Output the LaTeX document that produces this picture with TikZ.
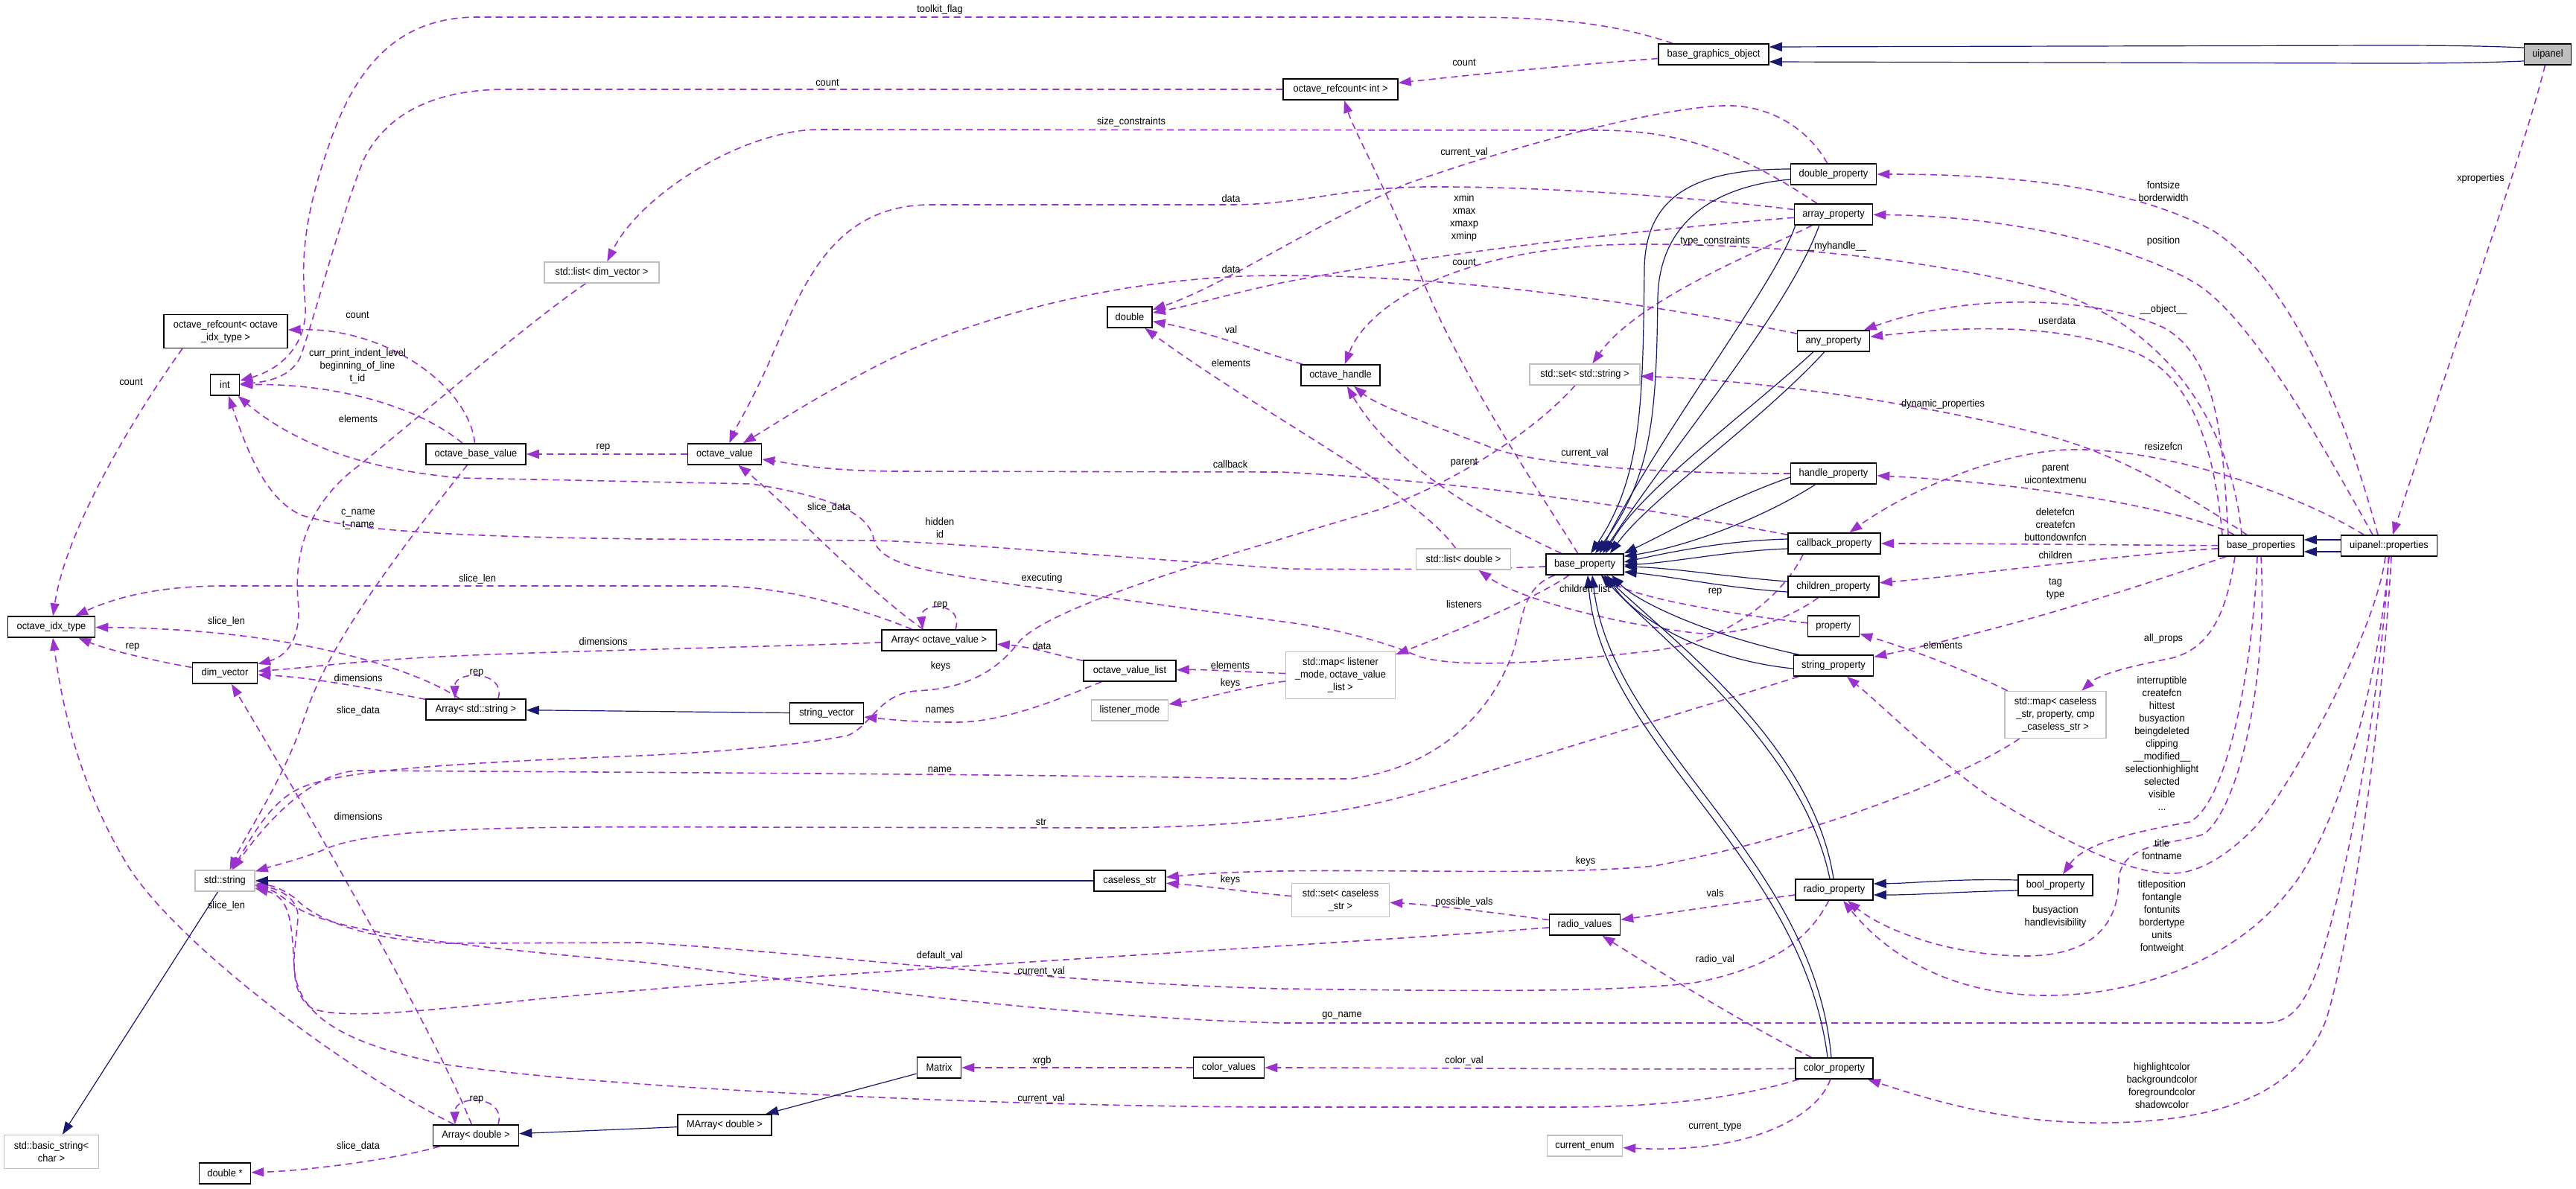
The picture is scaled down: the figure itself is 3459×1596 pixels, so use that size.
\documentclass[tikz,border=0pt]{standalone}
\usepackage{fontspec}
\setmainfont{Liberation Sans}[FakeStretch=0.93]
\usetikzlibrary{arrows.meta}
\definecolor{usecol}{HTML}{9A32CD}
\definecolor{inhcol}{HTML}{191970}
\pgfdeclarelayer{bgzero}
\pgfdeclarelayer{edges}
\pgfsetlayers{bgzero,edges,main}
\tikzset{
  cls/.style={draw=black, line width=1.5pt, fill=white, inner sep=0pt, minimum height=28pt, align=center},
  ucls/.style={cls, draw=black!25},
  lbl/.style={inner sep=0pt, align=center},
  usesedge/.style={draw=usecol, line width=1.6pt, dash pattern=on 9pt off 6pt, -{Triangle[length=17pt,width=12pt]}},
  inhedge/.style={draw=inhcol, line width=1.2pt, -{Triangle[length=17pt,width=12pt]}}
}
\begin{document}
\begin{tikzpicture}[x=1pt,y=-1pt,font=\fontsize{13.8}{17}\selectfont]
\begin{pgfonlayer}{bgzero}
\fill[white] (0,0) rectangle (3459,1596);
\end{pgfonlayer}
\useasboundingbox (0,0) rectangle (3459,1596);

% nodes
\node[cls, fill=black!25, minimum width=63pt] (uipanel) at (3421,73) {uipanel};
\node[cls, minimum width=148pt] (bgo) at (2301,73) {base\_graphics\_object};
\node[cls, minimum width=154pt] (orcint) at (1800,120) {octave\_refcount< int >};
\node[cls, minimum width=166pt, minimum height=45pt] (orcidx) at (303,445) {octave\_refcount< octave\\\_idx\_type >};
\node[cls, minimum width=39pt] (int) at (302,517) {int};
\node[ucls, minimum width=154pt] (listdim) at (808,366) {std::list< dim\_vector >};
\node[cls, minimum width=60pt] (double) at (1517,426) {double};
\node[cls, minimum width=115pt] (dprop) at (2462,234) {double\_property};
\node[cls, minimum width=105pt] (aprop) at (2462,288) {array\_property};
\node[cls, minimum width=97pt] (anyprop) at (2462,458) {any\_property};
\node[cls, minimum width=106pt] (ohandle) at (1800,504) {octave\_handle};
\node[ucls, minimum width=148pt] (setstr) at (2128,503) {std::set< std::string >};
\node[cls, minimum width=134pt] (obv) at (639,610) {octave\_base\_value};
\node[cls, minimum width=99pt] (ov) at (973,610) {octave\_value};
\node[cls, minimum width=117pt] (oidx) at (69,842) {octave\_idx\_type};
\node[cls, minimum width=87pt] (dimv) at (302,904) {dim\_vector};
\node[cls, minimum width=134pt] (arrstr) at (639,953) {Array< std::string >};
\node[cls, minimum width=154pt] (arrov) at (1261,860) {Array< octave\_value >};
\node[cls, minimum width=124pt] (ovl) at (1517,901) {octave\_value\_list};
\node[ucls, minimum width=103pt] (lmode) at (1517,954) {listener\_mode};
\node[cls, minimum width=99pt] (strvec) at (1110,958) {string\_vector};
\node[cls, minimum width=115pt] (hprop) at (2462,636) {handle\_property};
\node[cls, minimum width=124pt] (cbprop) at (2463,730) {callback\_property};
\node[cls, minimum width=122pt] (chprop) at (2462,788) {children\_property};
\node[cls, minimum width=69pt] (prop) at (2462,841) {property};
\node[cls, minimum width=107pt] (sprop) at (2462,894) {string\_property};
\node[cls, minimum width=104pt] (bprop) at (2128,758) {base\_property};
\node[ucls, minimum width=127pt] (listdbl) at (1965,751) {std::list< double >};
\node[ucls, minimum width=147pt, minimum height=63pt] (maplm) at (1800,907) {std::map< listener\\\_mode, octave\_value\\\_list >};
\node[cls, minimum width=114pt] (bprops) at (3036,733) {base\_properties};
\node[cls, minimum width=129pt] (uprops) at (3208,733) {uipanel::properties};
\node[ucls, minimum width=136pt, minimum height=63pt] (mapcs) at (2760,960) {std::map< caseless\\\_str, property, cmp\\\_caseless\_str >};
\node[cls, minimum width=100pt] (boolp) at (2760,1189) {bool\_property};
\node[ucls, minimum width=80pt] (stdstr) at (302,1183) {std::string};
\node[ucls, minimum width=127pt, minimum height=45pt] (bstr) at (69,1547) {std::basic\_string<\\char >};
\node[cls, minimum width=115pt] (arrdbl) at (639,1525) {Array< double >};
\node[cls, minimum width=69pt] (dblptr) at (302,1576) {double *};
\node[cls, minimum width=96pt] (cstr) at (1517,1183) {caseless\_str};
\node[cls, minimum width=59pt] (matrix) at (1261,1434) {Matrix};
\node[cls, minimum width=95pt] (cvals) at (1650,1434) {color\_values};
\node[cls, minimum width=126pt] (marr) at (973,1511) {MArray< double >};
\node[ucls, minimum width=131pt, minimum height=45pt] (setcs) at (1800,1209) {std::set< caseless\\\_str >};
\node[cls, minimum width=95pt] (rvals) at (2128,1242) {radio\_values};
\node[cls, minimum width=104pt] (rprop) at (2463,1195) {radio\_property};
\node[cls, minimum width=104pt] (cprop) at (2463,1435) {color\_property};
\node[ucls, minimum width=101pt] (cenum) at (2128,1539) {current\_enum};

% labels
\node[lbl] (t1) at (1262,13) {toolkit\_flag};
\node[lbl] (t2) at (1966,84) {count};
\node[lbl] (t3) at (1111,111) {count};
\node[lbl] (t4) at (1519,164) {size\_constraints};
\node[lbl] (t5) at (1966,205) {current\_val};
\node[lbl] (t6) at (2905,257) {fontsize\\borderwidth};
\node[lbl] (t7) at (3331,240) {xproperties};
\node[lbl] (t8) at (1653,267) {data};
\node[lbl] (t9) at (1966,292) {xmin\\xmax\\xmaxp\\xminp};
\node[lbl] (t10) at (2905,324) {position};
\node[lbl] (t11) at (2303,324) {type\_constraints};
\node[lbl] (t12) at (2464,331) {\_\_myhandle\_\_};
\node[lbl] (t13) at (1966,352) {count};
\node[lbl] (t14) at (1653,362) {data};
\node[lbl] (t15) at (2905,416) {\_\_object\_\_};
\node[lbl] (t16) at (480,423) {count};
\node[lbl] (t17) at (2762,431) {userdata};
\node[lbl] (t18) at (1653,443) {val};
\node[lbl] (t19) at (480,492) {curr\_print\_indent\_level\\beginning\_of\_line\\t\_id};
\node[lbl] (t20) at (1653,488) {elements};
\node[lbl] (t21) at (176,513) {count};
\node[lbl] (t22) at (2609,543) {dynamic\_properties};
\node[lbl] (t23) at (481,563) {elements};
\node[lbl] (t24) at (2905,600) {resizefcn};
\node[lbl] (t25) at (810,601) {rep};
\node[lbl] (t26) at (2128,609) {current\_val};
\node[lbl] (t27) at (1966,621) {parent};
\node[lbl] (t28) at (1652,624) {callback};
\node[lbl] (t29) at (2760,637) {parent\\uicontextmenu};
\node[lbl] (t30) at (1113,682) {slice\_data};
\node[lbl] (t31) at (2760,705) {deletefcn\\createfcn\\buttondownfcn};
\node[lbl] (t32) at (481,698) {c\_name\\t\_name};
\node[lbl] (t33) at (1262,709) {hidden\\id};
\node[lbl] (t34) at (2760,746) {children};
\node[lbl] (t35) at (1399,777) {executing};
\node[lbl] (t36) at (641,778) {slice\_len};
\node[lbl] (t37) at (2760,791) {tag\\type};
\node[lbl] (t38) at (2128,792) {children\_list};
\node[lbl] (t39) at (2303,795) {rep};
\node[lbl] (t40) at (1966,812) {listeners};
\node[lbl] (t41) at (1263,813) {rep};
\node[lbl] (t42) at (304,835) {slice\_len};
\node[lbl] (t43) at (2905,858) {all\_props};
\node[lbl] (t44) at (810,862) {dimensions};
\node[lbl] (t45) at (2609,867) {elements};
\node[lbl] (t46) at (1399,868) {data};
\node[lbl] (t47) at (178,869) {rep};
\node[lbl] (t48) at (1652,894) {elements};
\node[lbl] (t49) at (1263,895) {keys};
\node[lbl] (t50) at (640,904) {rep};
\node[lbl] (t51) at (481,911) {dimensions};
\node[lbl] (t52) at (1652,918) {keys};
\node[lbl] (t53) at (1262,954) {names};
\node[lbl] (t54) at (481,955) {slice\_data};
\node[lbl] (t55) at (2903,998) {interruptible\\createfcn\\hittest\\busyaction\\beingdeleted\\clipping\\\_\_modified\_\_\\selectionhighlight\\selected\\visible\\...};
\node[lbl] (t56) at (1262,1034) {name};
\node[lbl] (t57) at (481,1097) {dimensions};
\node[lbl] (t58) at (1398,1104) {str};
\node[lbl] (t59) at (2903,1141) {title\\fontname};
\node[lbl] (t60) at (2129,1157) {keys};
\node[lbl] (t61) at (1652,1182) {keys};
\node[lbl] (t62) at (2303,1200) {vals};
\node[lbl] (t63) at (1966,1212) {possible\_vals};
\node[lbl] (t64) at (304,1217) {slice\_len};
\node[lbl] (t65) at (2760,1231) {busyaction\\handlevisibility};
\node[lbl] (t66) at (2903,1231) {titleposition\\fontangle\\fontunits\\bordertype\\units\\fontweight};
\node[lbl] (t67) at (1262,1284) {default\_val};
\node[lbl] (t68) at (2303,1289) {radio\_val};
\node[lbl] (t69) at (1398,1305) {current\_val};
\node[lbl] (t70) at (1802,1364) {go\_name};
\node[lbl] (t71) at (1399,1425) {xrgb};
\node[lbl] (t72) at (1966,1425) {color\_val};
\node[lbl] (t73) at (2903,1458) {highlightcolor\\backgroundcolor\\foregroundcolor\\shadowcolor};
\node[lbl] (t74) at (1398,1476) {current\_val};
\node[lbl] (t75) at (640,1477) {rep};
\node[lbl] (t76) at (2303,1513) {current\_type};
\node[lbl] (t77) at (481,1540) {slice\_data};

\begin{pgfonlayer}{edges}
% ---- usage edges ----
\draw[usesedge] (bgo.165) .. controls (2150,25) and (2050,23) .. (1950,23) -- (640,23) .. controls (520,23) and (470,110) .. (440,200) .. controls (405,300) and (405,360) .. (410,410) .. controls (413,460) and (380,495) .. (int);
\draw[usesedge] (bgo) .. controls (2100,88) and (1980,100) .. (orcint);
\draw[usesedge] (orcint) -- (680,120) .. controls (560,120) and (510,170) .. (488,215) .. controls (455,300) and (430,400) .. (405,475) .. controls (397,500) and (370,512) .. (int);
\draw[usesedge] (obv) .. controls (630,520) and (520,440) .. (orcidx);
\draw[usesedge] (obv) .. controls (560,545) and (450,515) .. (int);
\draw[usesedge] ([xshift=-58pt]orcidx.south) .. controls (200,530) and (90,700) .. (oidx);
\draw[usesedge] ([xshift=-42pt]cbprop.south) .. controls (2400,790) and (2330,862) .. (2219,874) .. controls (2100,888) and (1960,900) .. (1903,881) .. controls (1870,866) and (1800,845) .. (1730,836) -- (1360,785) .. controls (1250,768) and (1180,760) .. (1173,723) .. controls (1166,690) and (1120,668) .. (1010,650) -- (620,642) .. controls (500,632) and (400,600) .. (int);
\draw[usesedge] (bprop) .. controls (2000,765) and (1800,765) .. (1730,764) .. controls (1500,748) and (1250,727) .. (1171,726) -- (870,724) .. controls (600,721) and (470,712) .. (405,692) .. controls (355,670) and (330,600) .. (int);
\draw[usesedge] (obv) .. controls (520,760) and (440,870) .. (410,960) .. controls (380,1050) and (330,1120) .. (stdstr);
\draw[usesedge] (listdim) .. controls (700,440) and (540,580) .. (472,633) .. controls (415,680) and (395,740) .. (400,805) .. controls (405,850) and (390,880) .. (dimv);
\draw[usesedge] (arrov) .. controls (1150,815) and (1050,787) .. (960,787) -- (300,787) .. controls (220,787) and (160,800) .. (oidx);
\draw[usesedge] (arrstr) .. controls (560,900) and (400,845) .. (oidx);
\draw[usesedge] (dimv) .. controls (220,890) and (150,875) .. (oidx);
\draw[usesedge] (arrov) .. controls (1000,870) and (700,875) .. (555,884) .. controls (460,890) and (400,898) .. (dimv);
\draw[usesedge] (arrstr) .. controls (500,925) and (420,910) .. (dimv);
\draw[usesedge] (arrdbl) .. controls (590,1400) and (420,1100) .. (dimv);
\draw[usesedge] (arrdbl) .. controls (450,1430) and (230,1260) .. (170,1160) .. controls (110,1060) and (85,960) .. (oidx);
\draw[usesedge] (arrdbl) .. controls (540,1555) and (420,1572) .. (dblptr);
\draw[usesedge] ([xshift=30pt]arrdbl.north) .. controls (680,1470) and (610,1470) .. ([xshift=-28pt]arrdbl.north);
\draw[usesedge] ([xshift=30pt]arrstr.north) .. controls (680,900) and (610,900) .. ([xshift=-28pt]arrstr.north);
\draw[usesedge] ([xshift=22pt]arrov.north) .. controls (1295,808) and (1235,808) .. ([xshift=-22pt]arrov.north);
\draw[usesedge] (arrov) .. controls (1160,790) and (1060,680) .. (ov);
\draw[usesedge] (ov) -- (obv);
\draw[usesedge] (aprop) .. controls (2250,262) and (2050,250) .. (1914,251) .. controls (1800,252) and (1750,275) .. (1650,275) -- (1250,275) .. controls (1120,275) and (1080,380) .. (1040,470) .. controls (1010,540) and (990,570) .. (ov);
\draw[usesedge] (anyprop) .. controls (2200,405) and (1950,370) .. (1720,370) .. controls (1500,370) and (1300,430) .. (1190,485) .. controls (1100,530) and (1040,570) .. (ov);
\draw[usesedge] (cbprop) .. controls (2250,690) and (2000,648) .. (1720,634) -- (1200,633) .. controls (1100,632) and (1060,622) .. (ov);
\draw[usesedge] (hprop) .. controls (2200,636) and (2050,622) .. (1997,599) .. controls (1920,570) and (1850,545) .. (ohandle);
\draw[usesedge] (bprop) .. controls (2030,712) and (1880,640) .. (ohandle);
\draw[usesedge] (bprop) .. controls (2060,650) and (1960,500) .. (1908,371) .. controls (1870,270) and (1820,180) .. (orcint);
\draw[usesedge] ([xshift=-26pt]bprops.north) .. controls (3000,600) and (2930,440) .. (2748,389) .. controls (2600,350) and (2400,328) .. (2203,328) .. controls (1980,328) and (1840,400) .. (ohandle);
\draw[usesedge] (dprop) .. controls (2420,160) and (2360,140) .. (2314,142) .. controls (2230,145) and (2050,190) .. (1886,248) .. controls (1750,310) and (1640,385) .. (double);
\draw[usesedge] (aprop) .. controls (2250,305) and (1950,335) .. (1720,380) .. controls (1650,395) and (1600,410) .. (double);
\draw[usesedge] (ohandle) .. controls (1700,475) and (1620,445) .. (double);
\draw[usesedge] (listdbl) .. controls (1900,660) and (1700,560) .. (double);
\draw[usesedge] (aprop) .. controls (2330,200) and (2250,175) .. (2147,175) -- (1100,174) .. controls (1000,174) and (860,260) .. (listdim);
\draw[usesedge] (aprop) .. controls (2380,330) and (2200,400) .. (setstr);
\draw[usesedge] ([xshift=-19pt]bprops.north) .. controls (2960,680) and (2850,610) .. (2748,585) .. controls (2580,540) and (2350,510) .. (setstr);
\draw[usesedge] (bprop) .. controls (2060,805) and (1950,850) .. (maplm);
\draw[usesedge] (chprop) .. controls (2390,840) and (2320,855) .. (2275,850) .. controls (2170,838) and (2040,805) .. (listdbl);
\draw[usesedge] (prop) .. controls (2300,822) and (2190,800) .. (bprop);
\draw[usesedge] (maplm) .. controls (1680,903) and (1620,899) .. (ovl);
\draw[usesedge] (maplm) .. controls (1680,920) and (1620,938) .. (lmode);
\draw[usesedge] (ovl) .. controls (1420,880) and (1380,868) .. (arrov);
\draw[usesedge] (ovl) .. controls (1430,935) and (1350,972) .. (1276,970) .. controls (1230,970) and (1190,966) .. (strvec);
\draw[usesedge] (setstr) .. controls (2060,580) and (1950,650) .. (1850,685) .. controls (1650,745) and (1420,810) .. (1370,860) .. controls (1340,900) and (1300,925) .. (1230,928) .. controls (1180,932) and (1170,975) .. (1138,988) .. controls (1050,1005) and (920,1012) .. (860,1015) .. controls (600,1025) and (450,1035) .. (400,1060) .. controls (360,1080) and (335,1130) .. (stdstr);
\draw[usesedge] (sprop) .. controls (2300,945) and (2050,1020) .. (1920,1060) .. controls (1820,1090) and (1700,1110) .. (1500,1112) -- (1000,1111) .. controls (700,1110) and (500,1110) .. (433,1142) .. controls (400,1155) and (370,1162) .. (stdstr);
\draw[usesedge] (bprop) .. controls (2040,790) and (2045,840) .. (2030,880) .. controls (2000,960) and (1930,1030) .. (1814,1046) -- (1700,1046) .. controls (1400,1040) and (800,1037) .. (480,1035) .. controls (420,1038) and (360,1100) .. (stdstr);
\draw[usesedge] (rvals) .. controls (1800,1268) and (1200,1300) .. (860,1330) .. controls (650,1345) and (480,1375) .. (420,1355) .. controls (380,1330) and (400,1260) .. (400,1230) .. controls (400,1210) and (380,1195) .. (stdstr);
\draw[usesedge] (rprop) .. controls (2430,1260) and (2380,1300) .. (2275,1320) .. controls (2150,1335) and (1900,1330) .. (1720,1328) .. controls (1400,1320) and (1100,1280) .. (860,1266) -- (600,1267) .. controls (480,1262) and (420,1230) .. (400,1210) .. controls (390,1200) and (370,1190) .. (stdstr);
\draw[usesedge] (uprops) .. controls (3200,900) and (3160,1150) .. (3113,1299) .. controls (3095,1345) and (3080,1374) .. (3040,1374) -- (1720,1374) .. controls (1400,1365) and (1100,1320) .. (860,1292) .. controls (600,1270) and (450,1250) .. (400,1220) .. controls (385,1210) and (370,1196) .. (stdstr);
\draw[usesedge] (cprop) .. controls (2350,1470) and (2250,1487) .. (2100,1487) -- (1700,1487) .. controls (1300,1485) and (800,1460) .. (600,1430) .. controls (450,1400) and (400,1360) .. (395,1300) .. controls (392,1240) and (390,1205) .. (stdstr);
\draw[usesedge] (setcs) .. controls (1690,1200) and (1620,1190) .. (cstr);
\draw[usesedge] (mapcs) .. controls (2640,1040) and (2450,1120) .. (2222,1163) .. controls (2050,1180) and (1750,1160) .. (cstr);
\draw[usesedge] (mapcs) .. controls (2640,900) and (2560,870) .. (prop);
\draw[usesedge] (rvals) .. controls (2000,1225) and (1920,1215) .. (setcs);
\draw[usesedge] (rprop) .. controls (2350,1210) and (2250,1225) .. (rvals);
\draw[usesedge] (cprop) .. controls (2350,1380) and (2220,1300) .. (rvals);
\draw[usesedge] (cprop) .. controls (2200,1437) and (1900,1434) .. (cvals);
\draw[usesedge] (cprop) .. controls (2440,1500) and (2350,1550) .. (cenum);
\draw[usesedge] (cvals) -- (matrix);
\draw[usesedge] ([xshift=-35pt]bprops.south) .. controls (2990,820) and (2970,870) .. (2916,884) .. controls (2860,895) and (2820,905) .. (mapcs);
\draw[usesedge] ([xshift=-5pt]bprops.south) .. controls (3025,900) and (2990,1080) .. (2940,1104) .. controls (2880,1115) and (2800,1130) .. (boolp);
\draw[usesedge] (bprops.south) .. controls (3045,900) and (3010,1080) .. (2960,1120) .. controls (2920,1135) and (2850,1130) .. (2845,1180) .. controls (2845,1250) and (2800,1285) .. (2715,1284) .. controls (2620,1283) and (2530,1250) .. (rprop);
\draw[usesedge] ([xshift=-5pt]uprops.south) .. controls (3190,850) and (3080,1050) .. (3028,1111) .. controls (2990,1150) and (2950,1175) .. (2911,1173) .. controls (2840,1170) and (2740,1110) .. (2670,1069) .. controls (2600,1020) and (2530,950) .. (sprop);
\draw[usesedge] (uprops.south) .. controls (3190,950) and (3130,1130) .. (3073,1197) .. controls (3000,1290) and (2870,1337) .. (2748,1337) .. controls (2630,1337) and (2540,1290) .. (rprop);
\draw[usesedge] ([xshift=3pt]uprops.south) .. controls (3200,950) and (3160,1250) .. (3124,1368) .. controls (3090,1460) and (3000,1505) .. (2832,1508) .. controls (2700,1510) and (2600,1480) .. (cprop);
\draw[usesedge] ([xshift=-15pt]uprops.north) .. controls (3150,560) and (3080,380) .. (2972,310) .. controls (2860,250) and (2700,234) .. (dprop);
\draw[usesedge] ([xshift=-22pt]uprops.north) .. controls (3120,600) and (3020,420) .. (2944,378) .. controls (2860,330) and (2700,290) .. (aprop);
\draw[usesedge] (uipanel) .. controls (3390,200) and (3300,450) .. (uprops);
\draw[usesedge] ([xshift=-34pt]uprops.north) .. controls (3080,660) and (2900,600) .. (2776,604) .. controls (2680,608) and (2560,660) .. (cbprop);
\draw[usesedge] ([xshift=-36pt]bprops.north) .. controls (2950,690) and (2750,650) .. (hprop);
\draw[usesedge] (bprops) .. controls (2850,732) and (2650,730) .. (cbprop);
\draw[usesedge] (bprops) .. controls (2850,745) and (2650,772) .. (chprop);
\draw[usesedge] (bprops) .. controls (2950,760) and (2760,830) .. (sprop);
\draw[usesedge] ([xshift=-44pt]bprops.north) .. controls (2985,600) and (2980,480) .. (2905,440) .. controls (2820,400) and (2650,390) .. (anyprop);
\draw[usesedge] ([xshift=-52pt]bprops.north) .. controls (2975,620) and (2950,510) .. (2870,475) .. controls (2760,430) and (2620,440) .. (anyprop);

% ---- inheritance edges ----
\draw[inhedge] ([yshift=9pt]uipanel.west) .. controls (3340,62) and (3300,61) .. (3200,61) -- ([yshift=10pt]bgo.east);
\draw[inhedge] ([yshift=-9pt]uipanel.west) .. controls (3340,84) and (3300,85) .. (3200,85) -- ([yshift=-10pt]bgo.east);
\draw[inhedge] ([yshift=8pt]uprops.west) -- ([yshift=8pt]bprops.east);
\draw[inhedge] ([yshift=-8pt]uprops.west) -- ([yshift=-8pt]bprops.east);
\draw[inhedge] ([yshift=7pt]dprop.west) .. controls (2280,227) and (2210,260) .. (2208,360) .. controls (2206,540) and (2205,640) .. ([xshift=8pt]bprop.north);
\draw[inhedge] ([yshift=-7pt]dprop.west) .. controls (2300,250) and (2228,300) .. (2226,400) .. controls (2224,550) and (2220,640) .. ([xshift=14pt]bprop.north);
\draw[inhedge] ([xshift=2pt]aprop.south west) .. controls (2385,380) and (2230,580) .. ([xshift=20pt]bprop.north);
\draw[inhedge] ([xshift=34pt]aprop.south west) .. controls (2400,420) and (2245,600) .. ([xshift=24pt]bprop.north);
\draw[inhedge] ([xshift=22pt]anyprop.south west) .. controls (2340,560) and (2200,660) .. ([xshift=28pt]bprop.north);
\draw[inhedge] ([xshift=37pt]anyprop.south west) .. controls (2360,570) and (2215,670) .. ([xshift=34pt]bprop.north);
\draw[inhedge] ([yshift=-5pt]hprop.west) .. controls (2320,670) and (2230,720) .. (bprop.north east);
\draw[inhedge] ([xshift=34pt]hprop.south west) .. controls (2360,700) and (2260,735) .. ([yshift=-4pt]bprop.north east);
\draw[inhedge] ([yshift=6pt]cbprop.west) .. controls (2320,726) and (2250,740) .. ([yshift=3pt]bprop.east);
\draw[inhedge] ([yshift=-7pt]cbprop.west) .. controls (2320,740) and (2250,755) .. ([yshift=-1pt]bprop.east);
\draw[inhedge] ([yshift=7pt]chprop.west) .. controls (2320,775) and (2250,763) .. ([yshift=-3pt]bprop.east);
\draw[inhedge] ([yshift=-7pt]chprop.west) .. controls (2320,790) and (2250,775) .. ([yshift=-10pt]bprop.east);
\draw[inhedge] ([xshift=8pt]sprop.north west) .. controls (2300,855) and (2200,810) .. ([xshift=36pt]bprop.south);
\draw[inhedge] ([yshift=-4pt]sprop.west) .. controls (2280,885) and (2190,825) .. ([xshift=30pt]bprop.south);
\draw[inhedge] ([xshift=-6pt]rprop.north) .. controls (2420,1000) and (2230,860) .. ([xshift=22pt]bprop.south);
\draw[inhedge] ([xshift=-1pt]rprop.north) .. controls (2435,1000) and (2245,860) .. ([xshift=26pt]bprop.south);
\draw[inhedge] ([xshift=-9pt]cprop.north) .. controls (2420,1150) and (2150,1000) .. ([xshift=4pt]bprop.south);
\draw[inhedge] ([xshift=-4pt]cprop.north) .. controls (2435,1150) and (2165,1000) .. ([xshift=10pt]bprop.south);
\draw[inhedge] ([yshift=7pt]boolp.west) .. controls (2620,1180) and (2580,1186) .. ([yshift=8pt]rprop.east);
\draw[inhedge] ([yshift=-7pt]boolp.west) .. controls (2620,1198) and (2580,1202) .. ([yshift=-7pt]rprop.east);
\draw[inhedge] (strvec) -- (arrstr);
\draw[inhedge] (cstr) -- (stdstr);
\draw[inhedge] (stdstr) -- (bstr);
\draw[inhedge] (marr) -- (arrdbl);
\draw[inhedge] (matrix) -- (marr);
\end{pgfonlayer}
\end{tikzpicture}
\end{document}
